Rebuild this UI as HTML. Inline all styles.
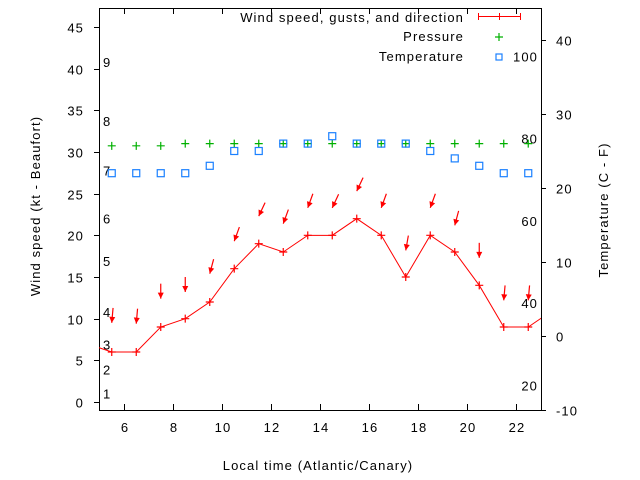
<!DOCTYPE html>
<html><head><meta charset="utf-8"><style>
body{margin:0;background:#fff}
svg{display:block;font-family:"Liberation Sans",sans-serif}
svg text{letter-spacing:1.1px}
</style></head><body>
<svg id="c" width="640" height="480" viewBox="0 0 640 480"></svg>
<script>
const hours=[4.5,5.5,6.5,7.5,8.5,9.5,10.5,11.5,12.5,13.5,14.5,15.5,16.5,17.5,18.5,19.5,20.5,21.5,22.5,23.5];
const windSpeed=[7,6,6,9,10,12,16,19,18,20,20,22,20,15,20,18,14,9,9,11];
const obsHours=[5.5,6.5,7.5,8.5,9.5,10.5,11.5,12.5,13.5,14.5,15.5,16.5,17.5,18.5,19.5,20.5,21.5,22.5];
const gusts=[9.5,9.4,12.4,13.2,15.4,19.3,22.3,21.4,23.3,23.3,25.3,23.3,18.2,23.3,21.2,17.3,12.2,12.2];
const windDir=[5,5,0,0,15,20,25,20,20,25,25,20,10,20,15,0,5,5];
const pressure=[25.7,25.7,25.7,26,26,26,26,26,26,26,26,26,26,26,26,26,26,26];
const tempC=[22,22,22,22,23,25,25,26,26,27,26,26,26,25,24,23,22,22];
const xTicks=[6,8,10,12,14,16,18,20,22];
const yTicks=[0,5,10,15,20,25,30,35,40,45];
const y2Ticks=[-10,0,10,20,30,40];
const beaufort=[[1,1],[2,3.9],[3,6.9],[4,10.8],[5,16.9],[6,22],[7,27.8],[8,33.7],[9,40.8]];
const fahr=[20,40,60,80,100];

const L=99,R=541,T=8,B=410;
const X=t=>124+(t-6)*24.5;
const Y=v=>402-v*(375/45);
const Y2=c=>336-c*7.4;
const svg=document.getElementById('c');
const NS='http://www.w3.org/2000/svg';
function mk(tag,attrs,parent){const e=document.createElementNS(NS,tag);for(const k in attrs)e.setAttribute(k,attrs[k]);(parent||svg).appendChild(e);return e;}
function txt(x,y,s,anchor,parent,extra){const e=mk('text',Object.assign({x:x,y:y,'font-size':13,'text-anchor':anchor||'start',fill:'#000'},extra||{}),parent);e.textContent=s;return e;}

const defs=mk('defs',{});const cp=mk('clipPath',{id:'pc'},defs);mk('rect',{x:L,y:T,width:R-L,height:B-T},cp);

const ax=mk('g',{stroke:'#000','stroke-width':1});

xTicks.forEach(t=>{const x=Math.round(X(t))+0.5;mk('line',{x1:x,y1:B,x2:x,y2:B-6},ax);mk('line',{x1:x,y1:T,x2:x,y2:T+6},ax);
 const l=txt(x+0.5,432,String(t),'middle');});
yTicks.forEach(v=>{const y=Math.round(Y(v))+0.5;mk('line',{x1:L,y1:y,x2:L-5,y2:y},ax);
 const l=txt(84,y+5,String(v),'end');});
y2Ticks.forEach(v=>{const y=Math.round(Y2(v))+0.5;mk('line',{x1:R,y1:y,x2:R+5,y2:y},ax);
 const l=txt(556,y+5,String(v),'start');});
mk('rect',{x:L+0.5,y:T+0.5,width:R-L,height:B-T,fill:'none',stroke:'#000'},ax);

beaufort.forEach(b=>{const l=txt(103,Y(b[1])+5,String(b[0]),'start');});
fahr.forEach(f=>{const l=txt(538,Y2((f-32)/1.8)+5,String(f),'end');});

const plot=mk('g',{'clip-path':'url(#pc)'});
pressure.forEach((p,i)=>{const x=X(obsHours[i]),y=Y2(p);const g=mk('path',{d:`M${x-4} ${y}h8M${x} ${y-4}v8`,stroke:'#00b000','stroke-width':1.2},plot);
 });
tempC.forEach((c,i)=>{const x=X(obsHours[i]),y=Y2(c);const r=mk('rect',{x:x-3.5,y:y-3.5,width:7,height:7,fill:'none',stroke:'#1a80ff','stroke-width':1.2},plot);
 });
const wl=mk('polyline',{points:hours.map((h,i)=>X(h)+','+Y(windSpeed[i])).join(' '),fill:'none',stroke:'#f00','stroke-width':1},plot);

hours.forEach((h,i)=>{const x=X(h),y=Y(windSpeed[i]);const m=mk('path',{d:`M${x-4} ${y}h8M${x} ${y-4}v8`,stroke:'#f00','stroke-width':1.2},plot);
 });
gusts.forEach((g,i)=>{const x=X(obsHours[i]),y=Y(g);const a=windDir[i]*Math.PI/180;const len=15;
 const tx=x+Math.sin(a)*len,ty=y-Math.cos(a)*len;
 const grp=mk('g',{},plot);
 mk('line',{x1:tx,y1:ty,x2:x,y2:y,stroke:'#f00','stroke-width':1.2},grp);
 const ux=(x-tx)/len,uy=(y-ty)/len,px=-uy,py=ux;
 mk('path',{d:`M${x} ${y}L${x-ux*6+px*3} ${y-uy*6+py*3}L${x-ux*6-px*3} ${y-uy*6-py*3}Z`,fill:'#f00'},grp);});

const lg=mk('g',{});
txt(464,22,'Wind speed, gusts, and direction','end',lg);
mk('path',{d:'M478 16.5h43M478.5 13v7M520.5 13v7M499.5 13v7',stroke:'#f00','stroke-width':1,fill:'none'},lg);
txt(464,41,'Pressure','end',lg);
mk('path',{d:'M495 37h8M499 33v8',stroke:'#00b000','stroke-width':1.2},lg);
txt(464,61,'Temperature','end',lg);
mk('rect',{x:496,y:54,width:6,height:6,fill:'none',stroke:'#1a80ff','stroke-width':1.2},lg);

let t=txt(318,470,'Local time (Atlantic/Canary)','middle');
t=txt(0,0,'Wind speed (kt - Beaufort)','middle',null,{transform:'translate(40,206) rotate(-90)'});
t=txt(0,0,'Temperature (C - F)','middle',null,{transform:'translate(608,210) rotate(-90)'});
</script>
</body></html>
